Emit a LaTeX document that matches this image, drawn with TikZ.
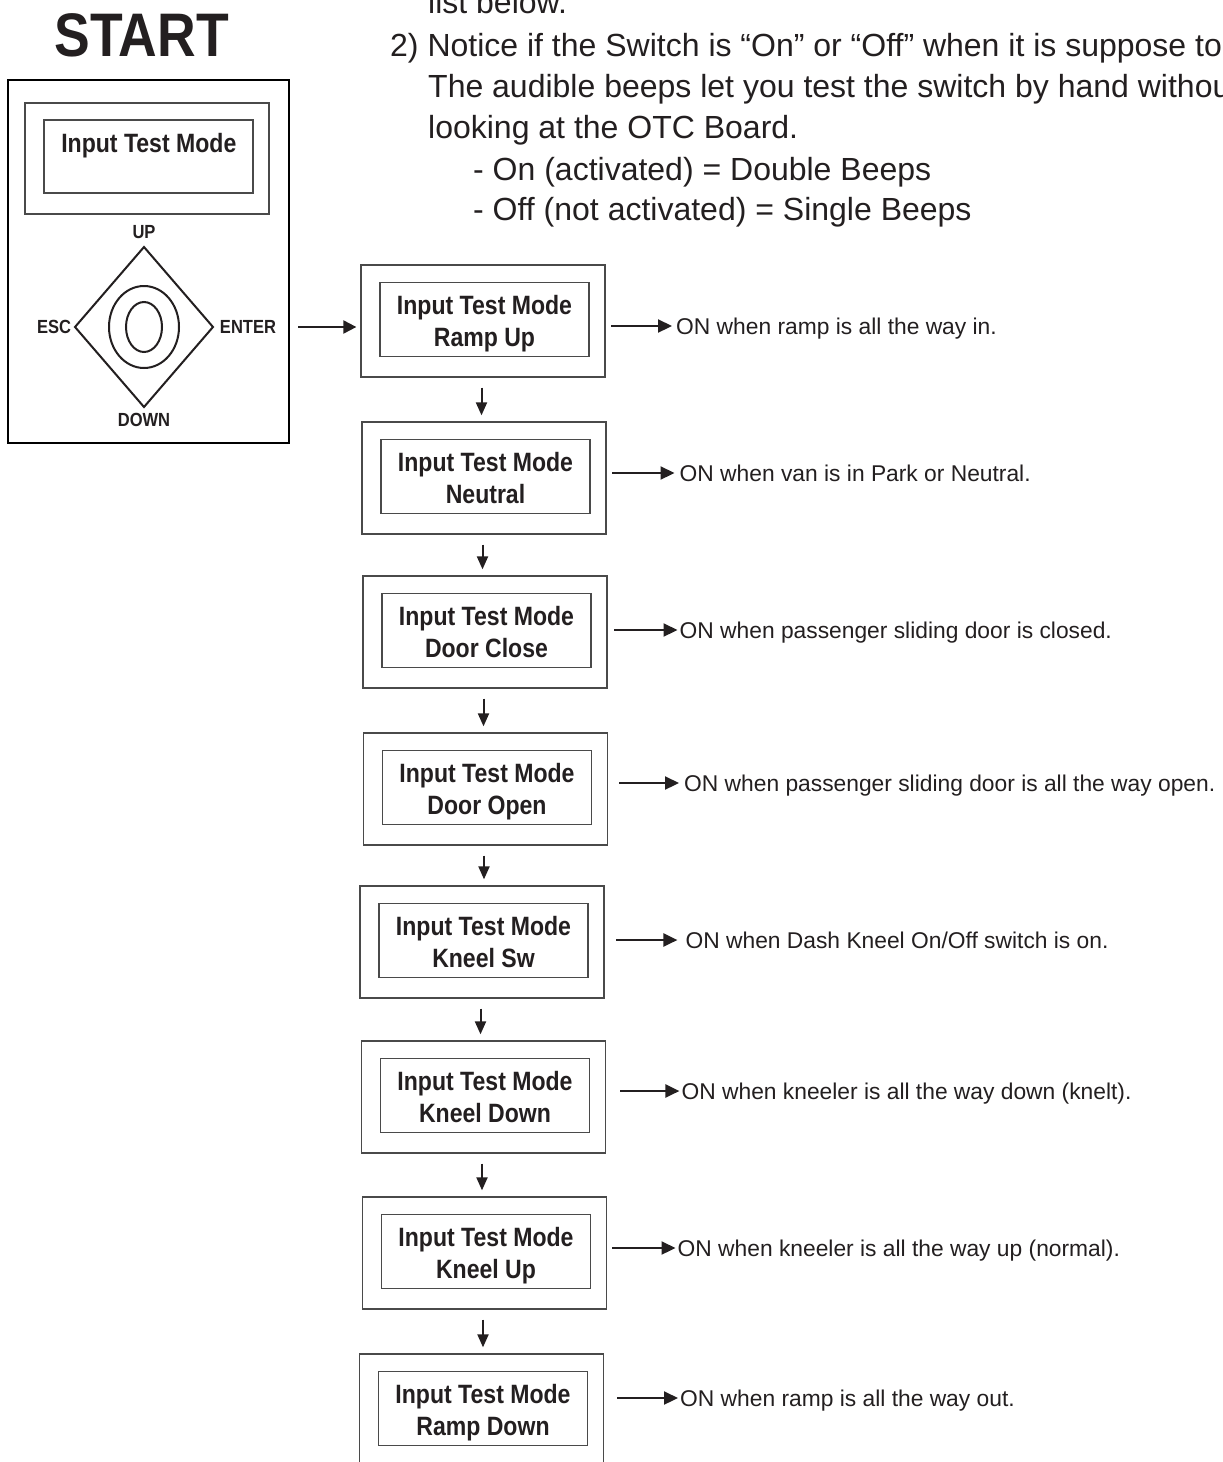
\documentclass[tikz,border=0pt]{standalone}
\usepackage{fontspec}
\setmainfont{Liberation Sans}
\newfontfamily\condbold[FakeStretch=0.87]{Liberation Sans}
\usetikzlibrary{arrows.meta}
\definecolor{ink}{HTML}{231F20}
\definecolor{boxgray}{HTML}{4A4A4A}
\tikzset{
  outerbox/.style={draw=boxgray, line width=1.3pt, minimum width=244pt, minimum height=112pt, inner sep=0pt},
  innerbox/.style={draw=boxgray, line width=1.3pt, minimum width=209pt, minimum height=74pt, inner sep=0pt},
  boxtext/.style={font=\condbold\bfseries\fontsize{26.5}{30}\selectfont, inner sep=0pt, anchor=base, text=ink},
  keytext/.style={font=\condbold\bfseries\fontsize{19}{22}\selectfont, inner sep=0pt, anchor=base, text=ink},
  onlabel/.style={font=\fontsize{22.8}{26}\selectfont, anchor=base west, inner sep=0pt, text=ink},
  toptext/.style={font=\fontsize{32}{36}\selectfont, anchor=base west, inner sep=0pt, text=ink},
  flowarrow/.style={-{Triangle[length=14pt,width=13pt]}, line width=2.2pt, draw=ink},
  downarrow/.style={-{Triangle[length=13pt,width=11pt]}, line width=2pt, draw=ink},
}
\begin{document}
\begin{tikzpicture}[x=1pt,y=-1pt]
\useasboundingbox (0,0) rectangle (1223,1462);
\clip (0,0) rectangle (1223,1462);
\fill[white] (0,0) rectangle (1223,1462);

% top instructions
\node[toptext] (t0) at (428,13.3) {list below.};
\node[toptext] (t1) at (390,56) {2) Notice if the Switch is “On” or “Off” when it is suppose to};
\node[toptext] (t2) at (428,97) {The audible beeps let you test the switch by hand without};
\node[toptext] (t3) at (428,138.3) {looking at the OTC Board.};
\node[toptext] (t4) at (473,180) {- On (activated) = Double Beeps};
\node[toptext] (t5) at (473,220) {- Off (not activated) = Single Beeps};

% START and device
\node[font=\condbold\bfseries\fontsize{61.5}{64}\selectfont, inner sep=0pt, anchor=base, text=ink] (start) at (141.5,56) {START};
\node[draw=black, line width=2.2pt, minimum width=281pt, minimum height=363pt, inner sep=0pt] (dev) at (148.5,261.5) {};
\node[draw=boxgray, line width=1.2pt, minimum width=244pt, minimum height=111pt, inner sep=0pt] (scrO) at (147,158.5) {};
\node[draw=boxgray, line width=1.2pt, minimum width=209pt, minimum height=73pt, inner sep=0pt] (scrI) at (148.5,156.5) {};
\node[boxtext] (scrT) at (148.8,152.7) {Input Test Mode};

\coordinate (pad) at (144,327);
\draw[line width=2pt, ink, line join=miter] ([yshift=80pt]pad) -- ([xshift=69pt]pad) -- ([yshift=-80pt]pad) -- ([xshift=-69pt]pad) -- cycle;
\draw[line width=2pt, ink] (pad) ellipse [x radius=35, y radius=41];
\draw[line width=2pt, ink] (pad) ellipse [x radius=18, y radius=25];
\node[keytext] (kup) at (144,238) {UP};
\node[keytext] (kesc) at (54,333) {ESC};
\node[keytext] (kent) at (248,333) {ENTER};
\node[keytext] (kdown) at (144,426) {DOWN};

% flow boxes
\foreach \i/\cx/\top/\txt in {1/483/265/{Ramp Up},2/484/422/{Neutral},3/485/576/{Door Close},4/485.5/733/{Door Open},5/482/886/{Kneel Sw},6/483.5/1041/{Kneel Down},7/484.5/1197/{Kneel Up},8/481.5/1354/{Ramp Down}}{
  \node[outerbox] (b\i) at (\cx,\top+56) {};
  \node[innerbox] (i\i) at (\cx+1.5,\top+54.5) {};
  \node[boxtext] (ta\i) at (\cx+1.5,\top+49) {Input Test Mode};
  \node[boxtext] (tb\i) at (\cx+1.5,\top+81.5) {\txt};
}

% enter arrow
\draw[-{Triangle[length=13pt,width=13pt]}, line width=2.2pt, draw=ink, shorten <=8pt, shorten >=4pt] (dev.east |- pad) -- (b1.west |- pad);

% down arrows
\foreach \i/\j in {1/2,2/3,3/4,4/5,5/6,6/7,7/8}{
  \draw[downarrow, shorten <=10pt, shorten >=6pt] ([xshift=-1.5pt]b\i.south) -- ([xshift=-1.5pt]b\i.south |- b\j.north);
}

% side arrows and labels
\foreach \i/\tail/\gap/\lx/\y/\txt in {
  1/611/4/676/326/{ON when ramp is all the way in.},
  2/612/5/679.5/473/{ON when van is in Park or Neutral.},
  3/614/2/679.5/630/{ON when passenger sliding door is closed.},
  4/619/5/684/783/{ON when passenger sliding door is all the way open.},
  5/616/8/685.4/940/{ON when Dash Kneel On/Off switch is on.},
  6/620/2/681.4/1091/{ON when kneeler is all the way down (knelt).},
  7/612/2/677.5/1248/{ON when kneeler is all the way up (normal).},
  8/617/2/680/1398/{ON when ramp is all the way out.}}{
  \coordinate (s\i) at (\tail,\y);
  \node[onlabel] (l\i) at (\lx,\y+8) {\txt};
  \draw[flowarrow, shorten >=\gap pt] (s\i) -- (l\i.west |- s\i);
}
\end{tikzpicture}
\end{document}
